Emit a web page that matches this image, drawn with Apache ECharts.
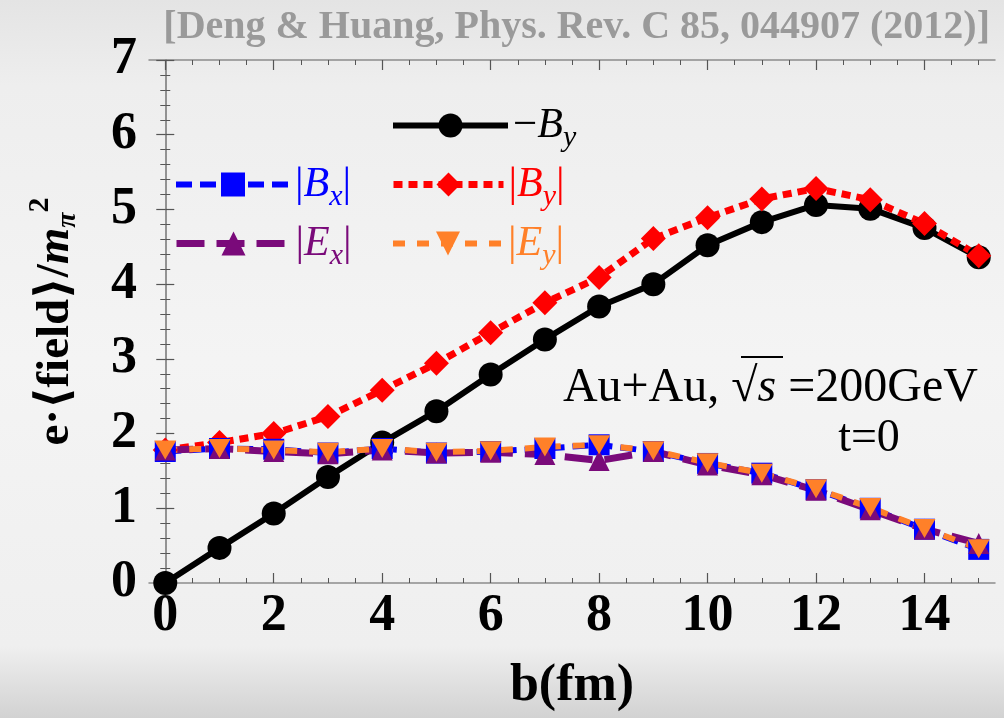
<!DOCTYPE html>
<html>
<head>
<meta charset="utf-8">
<script src="https://cdn.jsdelivr.net/npm/echarts@6/dist/echarts.min.js"></script>
<style>
  html, body { margin: 0; padding: 0; }
  #main { width: 1004px; height: 718px; }
</style>
</head>
<body>
<div id="main"></div>
<script>
// data
const bValues = [0, 1, 2, 3, 4, 5, 6, 7, 8, 9, 10, 11, 12, 13, 14, 15]
const negBy = [0, 0.47, 0.93, 1.42, 1.88, 2.30, 2.79, 3.26, 3.70, 4.00, 4.52, 4.83, 5.06, 5.01, 4.75, 4.36]
const absBy = [1.78, 1.88, 2.00, 2.23, 2.58, 2.94, 3.35, 3.75, 4.09, 4.61, 4.89, 5.14, 5.28, 5.13, 4.81, 4.38]
const absBx = [1.76, 1.80, 1.79, 1.74, 1.80, 1.74, 1.76, 1.80, 1.85, 1.76, 1.60, 1.47, 1.25, 1.00, 0.72, 0.45]
const absEx = [1.78, 1.80, 1.76, 1.73, 1.78, 1.74, 1.75, 1.72, 1.64, 1.76, 1.58, 1.45, 1.24, 0.98, 0.72, 0.53]
const absEy = [1.78, 1.80, 1.78, 1.75, 1.80, 1.75, 1.77, 1.82, 1.85, 1.77, 1.61, 1.47, 1.26, 1.01, 0.73, 0.46]

const xMajorTicks = [0, 2, 4, 6, 8, 10, 12, 14]
const xMinorTicks = [0.5, 1, 1.5, 2.5, 3, 3.5, 4.5, 5, 5.5, 6.5, 7, 7.5, 8.5, 9, 9.5,
                     10.5, 11, 11.5, 12.5, 13, 13.5, 14.5, 15]

const serif = '"Liberation Serif", "DejaVu Serif", serif'
const pairs = arr => bValues.map((b, i) => [b, arr[i]])

const legendNames = {
  negBy: '{n|\u2212}{i|B}{s|y}',
  absBx: '{n||}{i|B}{s|x}{n||}',
  absBy: '{n||}{i|B}{s|y}{n||}',
  absEx: '{n||}{i|E}{s|x}{n||}',
  absEy: '{n||}{i|E}{s|y}{n||}'
}
const legendRich = {
  n: { fontFamily: serif, fontSize: 43 },
  i: { fontFamily: serif, fontSize: 42, fontStyle: 'italic' },
  s: { fontFamily: serif, fontSize: 30, fontStyle: 'italic', padding: [26, 0, 0, 0] }
}
const makeLegend = (name, color, left, top, width, line) => ({
  data: [{ name: name, textStyle: { color: color } }],
  left: left, top: top, padding: 0,
  itemWidth: width, itemHeight: 30,
  lineStyle: line,
  formatter: n => legendNames[n],
  textStyle: { fontFamily: serif, fontSize: 42, color: color, rich: legendRich }
})

const axisGray = '#8c8c8c'
const tickGray = '#555'
const xBase = { type: 'value', min: -0.3, max: 15.3, splitLine: { show: false } }

const styles = {
  negBy: { color: '#000', width: 6, type: 'solid' },
  absBy: { color: '#ff0000', width: 7, type: [9, 6], cap: 'butt' },
  absBx: { color: '#0000ff', width: 6, type: [16, 8], cap: 'butt' },
  absEx: { color: '#7a0a7a', width: 7, type: [28, 12], cap: 'butt' },
  absEy: { color: '#ff8029', width: 6, type: [12, 12], cap: 'butt' }
}

const options = {
  animation: false,
  backgroundColor: {
    type: 'linear', x: 0, y: 0, x2: 0, y2: 1,
    colorStops: [
      { offset: 0, color: '#e4e4e4' },
      { offset: 0.12, color: '#eeeeee' },
      { offset: 0.5, color: '#f4f4f4' },
      { offset: 0.9, color: '#efefef' },
      { offset: 1, color: '#d2d2d2' }
    ]
  },
  grid: { left: 149, right: 9, top: 60, bottom: 135, outerBoundsMode: 'none' },
  legend: [
    makeLegend('negBy', '#000', 390, 104, 115, { width: 6 }),
    makeLegend('absBx', '#0000ff', 173, 163, 114, { width: 6, type: [16, 8], cap: 'butt' }),
    makeLegend('absBy', '#ff0000', 390, 163, 110, { width: 7, type: [9, 6], cap: 'butt' }),
    makeLegend('absEx', '#7a0a7a', 173, 222, 114, { width: 7, type: [28, 12], cap: 'butt' }),
    makeLegend('absEy', '#ff8029', 390, 222, 110, { width: 6, type: [12, 12], cap: 'butt' })
  ],
  xAxis: [
    Object.assign({}, xBase, {
      position: 'bottom',
      axisLine: { show: true, lineStyle: { color: axisGray, width: 1.5 } },
      axisTick: { show: true, inside: true, length: 10, customValues: xMajorTicks,
                  lineStyle: { color: tickGray, width: 1.2 } },
      axisLabel: { customValues: xMajorTicks, margin: 8, color: '#000',
                   fontFamily: serif, fontSize: 52, fontWeight: 'bold' },
      name: 'b(fm)', nameLocation: 'middle', nameGap: 78,
      nameTextStyle: { color: '#000', fontFamily: serif, fontSize: 52, fontWeight: 'bold' }
    }),
    Object.assign({}, xBase, {
      position: 'bottom',
      axisLine: { show: false },
      axisTick: { show: true, inside: true, length: 5, customValues: xMinorTicks,
                  lineStyle: { color: tickGray, width: 1 } },
      axisLabel: { show: false }
    }),
    Object.assign({}, xBase, {
      position: 'top',
      axisLine: { show: true, lineStyle: { color: axisGray, width: 1.5 } },
      axisTick: { show: true, inside: true, length: 10, customValues: xMajorTicks,
                  lineStyle: { color: tickGray, width: 1.2 } },
      axisLabel: { show: false }
    }),
    Object.assign({}, xBase, {
      position: 'top',
      axisLine: { show: false },
      axisTick: { show: true, inside: true, length: 5, customValues: xMinorTicks,
                  lineStyle: { color: tickGray, width: 1 } },
      axisLabel: { show: false }
    })
  ],
  yAxis: [
    {
      type: 'value', min: 0, max: 7, interval: 1, position: 'left',
      splitLine: { show: false },
      axisLine: { show: true, lineStyle: { color: axisGray, width: 1.5 } },
      axisTick: { show: true, inside: true, length: 9, lineStyle: { color: tickGray, width: 1.2 } },
      minorTick: { show: true, splitNumber: 5, length: 5, lineStyle: { color: tickGray, width: 1 } },
      axisLabel: { margin: 12, color: '#000', fontFamily: serif, fontSize: 52, fontWeight: 'bold' },
      name: '{b|e\u00b7\u27e8field\u27e9/}{m|m}{sub|\u03c0}{sup|2}',
      nameLocation: 'middle', nameGap: 62,
      nameTextStyle: {
        color: '#000', fontFamily: serif, fontSize: 47, fontWeight: 'bold',
        rich: {
          b: { fontFamily: serif, fontSize: 47, fontWeight: 'bold' },
          m: { fontFamily: serif, fontSize: 47, fontWeight: 'bold', fontStyle: 'italic' },
          sub: { fontFamily: serif, fontSize: 28, fontWeight: 'bold', fontStyle: 'italic', padding: [24, 0, 0, 0] },
          sup: { fontFamily: serif, fontSize: 30, fontWeight: 'bold', padding: [0, 0, 32, 0] }
        }
      }
    },
    {
      type: 'value', min: 0, max: 7, interval: 1, position: 'right',
      splitLine: { show: false },
      axisLine: { show: true, lineStyle: { color: axisGray, width: 1.5 } },
      axisTick: { show: true, inside: true, length: 9, lineStyle: { color: tickGray, width: 1.2 } },
      minorTick: { show: true, splitNumber: 5, length: 5, lineStyle: { color: tickGray, width: 1 } },
      axisLabel: { show: false }
    }
  ],
  series: [
    {
      name: 'negBy', type: 'line', data: pairs(negBy),
      symbol: 'circle', symbolSize: 24,
      lineStyle: styles.negBy,
      itemStyle: { color: '#000' }
    },
    {
      name: 'absBy', type: 'line', data: pairs(absBy),
      symbol: 'diamond', symbolSize: 25,
      lineStyle: styles.absBy,
      itemStyle: { color: '#ff0000' }
    },
    {
      name: 'absBx', type: 'line', data: pairs(absBx),
      symbol: 'rect', symbolSize: 21,
      lineStyle: styles.absBx,
      itemStyle: { color: '#0000ff' }
    },
    {
      name: 'absEx', type: 'line', data: pairs(absEx),
      symbol: 'triangle', symbolSize: 21,
      lineStyle: styles.absEx,
      itemStyle: { color: '#7a0a7a' }
    },
    {
      name: 'absEy', type: 'line', data: pairs(absEy),
      symbol: 'path://M0,0 L10,0 L5,9 Z', symbolSize: [22, 19],
      lineStyle: styles.absEy,
      itemStyle: { color: '#ff8029' }
    }
  ],
  graphic: [
    {
      type: 'text', x: 990, y: 8,
      style: { text: '[Deng & Huang, Phys. Rev. C 85, 044907 (2012)]', align: 'right',
               fontFamily: serif, fontSize: 40, fontWeight: 'bold', fill: '#9a9a9a' }
    },
    {
      type: 'text', x: 978, y: 388,
      style: {
        text: '{n|Au+Au, \u221a}{i|s}{n| =200GeV}', align: 'right', verticalAlign: 'middle',
        rich: {
          n: { fontFamily: serif, fontSize: 48, fill: '#000' },
          i: { fontFamily: serif, fontSize: 48, fontStyle: 'italic', fill: '#000' }
        }
      }
    },
    {
      type: 'line', shape: { x1: 741, y1: 357, x2: 783, y2: 357 },
      style: { stroke: '#000', lineWidth: 2 }
    },
    {
      type: 'text', x: 869, y: 439,
      style: { text: 't=0', align: 'center', verticalAlign: 'middle',
               fontFamily: serif, fontSize: 46, fill: '#000' }
    }
  ]
}

// chart
const chartContainer = document.getElementById("main")
const myChart = echarts.init(chartContainer)
myChart.setOption(options)
window.onresize = () => myChart.resize()
</script>
</body>
</html>
